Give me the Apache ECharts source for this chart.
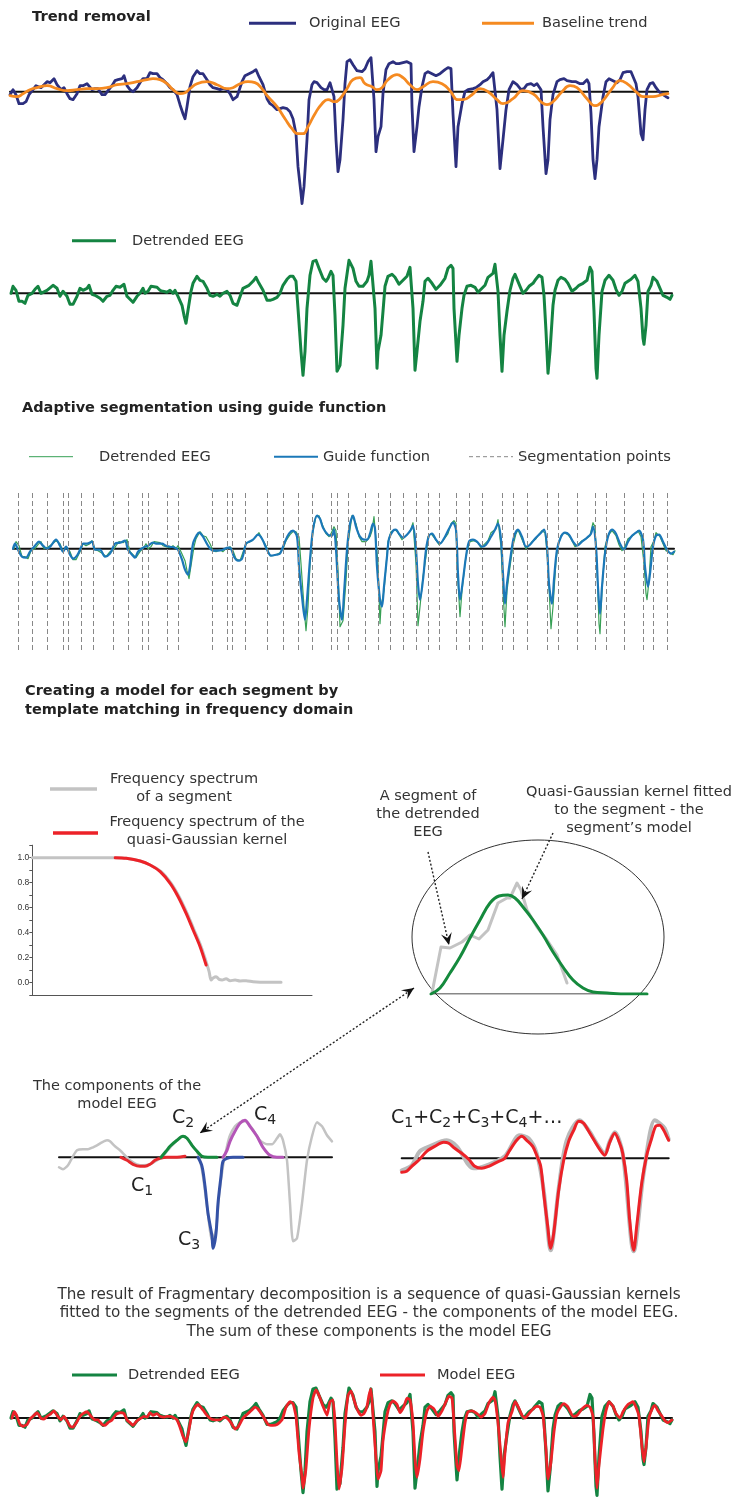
<!DOCTYPE html>
<html><head><meta charset="utf-8">
<script src="https://cdn.jsdelivr.net/npm/echarts@6/dist/echarts.min.js"></script>
<style>html,body{margin:0;padding:0;background:#fff}#c{width:737px;height:1500px}</style>
</head><body><div id="c"></div><script>
// ---------- DATA (time in samples, amplitude in arbitrary units) ----------
const originalEEG = [[10,-3],[13,2],[16,-3],[19,-12],[23,-12],[26,-10],[29,-3],[33,2],[36,6],[38,8],[41,4],[44,7],[47,10],[50,9],[54,13],[57,7],[61,2],[64,4],[67,-2],[70,-7],[73,-8],[77,-2],[80,6],[83,6],[87,8],[89,10],[92,2],[95,3],[98,3],[102,-3],[105,-3],[108,1],[112,6],[115,11],[118,12],[122,13],[124,16],[127,6],[130,2],[133,0],[137,4],[140,9],[143,13],[147,13],[150,19],[153,18],[157,18],[160,14],[163,12],[167,8],[170,4],[173,2],[177,-3],[180,-13],[183,-22],[185,-27],[187,-15],[190,5],[193,15],[197,21],[200,18],[203,18],[207,12],[210,7],[213,4],[217,3],[220,2],[223,3],[227,2],[230,-2],[233,-8],[237,-5],[239,-3],[242,10],[245,16],[249,18],[253,20],[256,22],[259,15],[263,7],[267,-7],[270,-12],[273,-14],[277,-18],[280,-17],[283,-16],[287,-17],[290,-20],[293,-27],[296,-42],[298,-75],[301,-102],[302,-112],[304,-95],[307,-48],[309,-8],[312,7],[314,10],[317,9],[321,4],[324,2],[327,2],[330,9],[332,9],[334,-5],[336,-48],[338,-80],[340,-68],[343,-28],[345,8],[347,30],[350,32],[353,27],[357,21],[362,20],[365,23],[368,30],[371,34],[373,32],[374,-8],[376,-60],[378,-45],[381,-35],[383,-2],[386,22],[389,28],[393,30],[396,28],[399,28],[403,29],[407,30],[409,32],[411,28],[412,-15],[414,-60],[417,-35],[419,-15],[422,5],[425,18],[428,20],[432,18],[436,16],[440,18],[445,22],[448,24],[451,23],[453,-22],[456,-75],[458,-35],[462,-12],[465,0],[468,2],[473,3],[476,4],[480,7],[483,10],[487,12],[490,15],[493,19],[495,18],[497,-18],[500,-77],[503,-48],[506,-18],[509,2],[513,10],[515,11],[517,7],[521,2],[524,3],[527,7],[531,8],[534,6],[537,8],[539,8],[541,2],[543,-35],[546,-82],[548,-68],[550,-28],[553,-3],[557,10],[560,12],[564,13],[567,11],[572,10],[576,10],[580,8],[583,8],[587,12],[589,8],[591,-22],[593,-68],[595,-87],[597,-68],[599,-35],[603,-5],[606,10],[609,13],[613,11],[617,9],[620,12],[623,19],[627,20],[631,20],[633,19],[636,8],[638,-5],[641,-42],[643,-48],[645,-18],[647,2],[650,8],[653,9],[656,4],[659,0],[663,-3],[666,-5],[668,-6]];

const baselineTrend = [[10,-4],[17,-5],[23,-2],[30,2],[37,4],[47,6],[57,3],[67,1],[77,2],[87,3],[97,3],[107,4],[117,7],[127,8],[137,10],[147,12],[153,13],[160,12],[167,8],[173,2],[180,-2],[185,-1],[190,3],[197,8],[207,10],[217,7],[227,3],[233,4],[240,8],[248,10],[255,9],[262,3],[268,-5],[277,-15],[285,-27],[292,-37],[298,-42],[303,-42],[308,-35],[315,-22],[322,-12],[328,-8],[335,-10],[340,-7],[347,3],[353,12],[360,14],[365,8],[372,5],[377,2],[382,4],[388,12],[397,17],[403,14],[410,7],[417,2],[423,5],[433,10],[442,8],[450,1],[458,-8],[463,-8],[472,-3],[480,3],[488,0],[497,-8],[503,-12],[513,-7],[523,1],[533,-2],[542,-11],[547,-13],[553,-10],[562,0],[570,6],[577,4],[587,-7],[595,-14],[602,-10],[612,3],[620,11],[627,8],[637,-1],[643,-5],[653,-5],[662,-3],[668,-2]];

const detrendedEEG = [[11,0],[13,7],[16,3],[19,-8],[22,-8],[25,-10],[28,-2],[32,0],[35,4],[38,7],[41,0],[43,-1],[47,3],[49,2],[53,8],[57,5],[60,-3],[63,2],[67,-3],[70,-11],[73,-11],[77,-3],[80,5],[83,3],[87,5],[89,8],[92,-1],[95,-2],[97,0],[100,-5],[103,-8],[107,-3],[110,-2],[113,3],[116,7],[120,6],[124,9],[127,-3],[130,-6],[133,-9],[137,-3],[140,0],[143,5],[145,0],[148,2],[151,7],[153,5],[157,6],[160,3],[163,2],[167,1],[170,3],[173,0],[175,3],[178,-3],[182,-12],[184,-22],[186,-30],[188,-17],[191,2],[193,10],[197,17],[200,13],[203,12],[207,5],[210,-2],[213,-3],[217,-1],[220,-3],[223,0],[227,2],[230,-2],[233,-10],[237,-12],[239,-10],[243,5],[245,7],[249,8],[253,12],[256,16],[259,10],[263,3],[267,-7],[270,-7],[273,-6],[277,-4],[280,0],[283,8],[287,14],[290,17],[293,17],[296,12],[298,-15],[301,-58],[303,-82],[305,-58],[307,-15],[310,18],[313,32],[316,33],[319,25],[323,15],[326,12],[328,15],[331,22],[333,18],[335,-22],[337,-78],[340,-72],[343,-32],[345,5],[349,33],[353,25],[356,12],[359,7],[363,7],[367,12],[369,18],[371,32],[373,33],[375,-15],[377,-75],[378,-58],[381,-42],[383,-18],[385,7],[388,17],[392,19],[395,16],[399,9],[403,13],[407,17],[410,26],[412,25],[413,-15],[415,-77],[417,-58],[420,-28],[423,-8],[425,12],[428,15],[432,10],[436,4],[440,8],[445,15],[448,25],[451,28],[453,25],[454,-15],[457,-68],[459,-42],[462,-15],[464,-2],[467,7],[471,8],[475,6],[478,1],[482,5],[485,8],[488,16],[493,20],[495,29],[497,30],[498,2],[500,-42],[502,-78],[504,-42],[507,-18],[510,3],[513,15],[515,19],[517,17],[520,7],[523,0],[526,3],[529,7],[533,10],[535,13],[537,12],[539,18],[542,16],[544,-2],[546,-38],[548,-80],[550,-58],[553,-12],[555,3],[558,13],[561,16],[565,14],[568,10],[572,2],[576,5],[579,8],[583,10],[587,13],[590,26],[592,22],[594,-18],[596,-75],[597,-85],[599,-42],[602,2],[605,13],[609,18],[613,13],[616,4],[619,-2],[622,2],[625,10],[628,12],[631,14],[635,18],[638,12],[641,-15],[643,-45],[644,-51],[646,-32],[648,2],[651,8],[653,16],[657,12],[660,5],[663,-2],[667,-4],[670,-6],[672,-2]];

const guideFunction = [[10,0],[12,5],[15,-1],[19,-8],[23,-9],[27,-3],[32,3],[36,7],[40,3],[44,0],[48,3],[53,9],[57,3],[60,-3],[63,2],[67,-6],[70,-10],[74,-7],[78,1],[80,5],[84,5],[89,7],[92,-1],[97,-1],[102,-8],[107,-5],[112,5],[117,6],[122,8],[125,-1],[130,-7],[132,-9],[135,-3],[140,1],[145,3],[150,6],[154,5],[159,5],[163,3],[167,2],[172,1],[175,-1],[179,-11],[182,-21],[185,-26],[187,-18],[190,5],[194,14],[196,16],[200,12],[205,3],[210,-2],[215,-2],[220,-1],[225,1],[228,0],[231,-8],[235,-12],[239,-10],[243,5],[246,7],[250,9],[255,14],[259,10],[264,-1],[268,-7],[273,-6],[277,-5],[282,7],[286,15],[290,18],[294,12],[296,-18],[299,-48],[302,-71],[304,-51],[307,-11],[310,19],[314,33],[317,30],[320,21],[325,14],[329,13],[331,19],[333,-1],[336,-51],[339,-71],[341,-45],[344,-1],[347,25],[350,33],[353,22],[357,12],[361,9],[364,9],[367,15],[370,25],[372,20],[374,-18],[377,-51],[379,-58],[381,-38],[384,-8],[386,10],[390,18],[393,19],[396,15],[400,11],[404,14],[408,19],[410,23],[413,-1],[415,-35],[417,-51],[420,-31],[423,-1],[426,13],[429,15],[433,9],[437,5],[442,12],[446,20],[450,26],[453,19],[455,-25],[457,-51],[460,-31],[463,-8],[466,7],[470,9],[474,7],[479,2],[483,4],[488,12],[492,19],[495,25],[498,9],[500,-25],[502,-55],[504,-35],[508,-5],[511,12],[515,19],[519,12],[523,2],[527,4],[532,10],[537,15],[541,19],[544,2],[546,-35],[549,-55],[551,-31],[554,-1],[558,12],[562,16],[566,14],[570,7],[574,3],[579,7],[584,11],[588,15],[590,22],[593,2],[595,-38],[597,-65],[599,-38],[602,-5],[605,12],[609,19],[613,15],[617,5],[621,-1],[625,7],[629,13],[633,16],[636,18],[640,9],[642,-18],[645,-38],[647,-25],[650,2],[653,13],[656,14],[660,7],[664,-1],[668,-5],[671,-3]];

const segmentationPoints = [15,29,44,60,65,78,90,110,125,139,145,164,175,209,224,229,242,264,280,295,309,328,334,345,362,375,387,400,413,425,436,453,466,479,499,510,524,544,555,574,592,603,621,640,650,664];

const modelEEG = [[12,0],[14,7],[17,2],[20,-7],[23,-9],[27,-7],[30,-1],[33,2],[37,6],[41,0],[44,-1],[47,2],[50,4],[54,8],[57,3],[61,-2],[64,2],[67,-3],[70,-9],[73,-10],[77,-4],[80,2],[83,5],[87,7],[91,2],[95,-2],[98,-2],[102,-7],[105,-8],[108,-5],[112,-2],[116,4],[120,6],[124,5],[127,-2],[130,-5],[133,-8],[137,-3],[141,0],[144,2],[147,1],[150,6],[153,3],[157,5],[160,2],[164,1],[167,2],[170,2],[173,1],[177,-2],[180,-10],[183,-20],[186,-26],[188,-18],[192,5],[195,12],[198,15],[203,9],[207,3],[211,-1],[215,-2],[220,-2],[224,1],[227,0],[231,-5],[235,-12],[238,-10],[243,0],[247,4],[251,8],[255,12],[258,10],[263,2],[268,-7],[273,-8],[277,-7],[282,-2],[286,12],[290,18],[293,16],[296,2],[299,-38],[302,-65],[303,-77],[306,-55],[309,-12],[313,22],[316,31],[319,25],[323,13],[327,3],[330,18],[333,20],[335,-5],[337,-48],[339,-78],[342,-55],[345,-8],[348,25],[351,30],[354,20],[357,10],[361,3],[364,5],[367,13],[369,25],[371,32],[373,3],[376,-45],[378,-67],[381,-58],[383,-25],[387,3],[390,15],[393,19],[397,15],[400,6],[404,13],[407,22],[410,20],[413,-5],[415,-45],[417,-65],[420,-45],[423,-15],[427,8],[430,13],[434,10],[438,2],[442,8],[446,18],[449,24],[452,22],[454,-5],[457,-52],[459,-58],[462,-32],[465,-5],[468,7],[472,8],[477,5],[481,1],[485,5],[489,17],[493,23],[495,20],[498,-5],[501,-42],[503,-65],[505,-38],[508,-5],[512,7],[515,18],[518,13],[522,3],[525,0],[529,5],[533,10],[537,13],[540,12],[543,3],[546,-35],[548,-67],[551,-48],[554,-15],[557,5],[561,13],[564,16],[568,12],[573,2],[577,3],[582,10],[587,14],[590,12],[593,2],[595,-45],[597,-77],[599,-52],[603,-12],[606,8],[609,18],[613,13],[616,5],[620,0],[623,7],[628,15],[633,18],[636,12],[639,2],[642,-32],[644,-48],[646,-32],[649,0],[653,12],[655,14],[658,8],[662,2],[665,-3],[668,-5],[672,-2]];

// frequency spectra (normalised magnitude)
const spectrumSegment = [[0,1],[83,1],[94,0.995],[108,0.973],[118,0.941],[129,0.888],[139,0.794],[147,0.687],[155,0.553],[162,0.42],[169,0.286],[174,0.166],[177,0.086],[179,0.019],[181,0.035],[184,0.045],[187,0.024],[190,0.019],[194,0.029],[198,0.013],[203,0.019],[208,0.011],[214,0.013],[221,0.005],[234,0],[249,0]];
const spectrumKernel = [[83,1],[94,0.995],[108,0.973],[118,0.941],[128,0.888],[138,0.794],[146,0.687],[154,0.553],[161,0.42],[168,0.286],[174,0.139]];
const spectrumTicks = [0.0, 0.2, 0.4, 0.6, 0.8, 1.0];

// one segment and its fitted kernel
const segmentSample = [[2,1],[11,47],[20,46],[32,52],[40,59],[49,55],[58,64],[68,91],[77,96],[80,96],[87,111],[91,104],[97,84],[107,67],[117,54],[127,39],[137,11]];
const segmentKernel = [[1,0],[10,6],[20,21],[30,37],[40,56],[50,74],[60,91],[69,98],[78,99],[85,96],[93,87],[103,74],[113,59],[123,42],[133,27],[143,14],[153,6],[163,2],[177,1],[197,0],[217,0]];

// components of the model EEG
const componentsEEG = [[0,-10],[4,-12],[9,-8],[14,1],[18,7],[24,8],[29,8],[34,10],[38,12],[43,15],[48,17],[51,16],[56,11],[61,7],[66,2],[71,-3],[78,-7],[84,-8],[91,-7],[98,-3],[103,0],[108,6],[114,13],[123,21],[128,19],[133,12],[138,6],[141,-3],[144,-19],[148,-49],[153,-83],[157,-73],[160,-39],[164,-9],[168,11],[171,22],[176,31],[181,35],[186,36],[193,29],[201,17],[208,13],[213,13],[218,19],[221,23],[224,17],[228,-3],[231,-46],[234,-84],[238,-81],[243,-46],[248,-3],[253,21],[258,35],[263,31],[268,22],[273,16]];
const compC1 = [[62,0],[68,-3],[74,-7],[81,-9],[86,-9],[91,-7],[96,-3],[101,-1],[108,0],[118,0],[126,1]];
const compC2 = [[102,0],[107,6],[111,11],[118,17],[124,21],[128,19],[133,12],[138,6],[143,1],[149,0],[158,0]];
const compC3 = [[139,0],[143,-9],[146,-29],[149,-56],[153,-79],[154,-91],[157,-76],[159,-46],[162,-19],[164,-4],[168,-1],[174,0],[184,0]];
const compC4 = [[164,0],[168,7],[171,16],[176,26],[181,34],[186,37],[191,31],[198,21],[204,10],[211,2],[218,0],[224,0]];

// sum of components vs EEG
const sumEEG = [[0,-12],[10,-7],[18,7],[28,12],[45,18],[55,12],[72,-10],[85,-7],[103,2],[118,23],[127,20],[135,5],[142,-32],[149,-92],[157,-30],[165,18],[178,38],[187,28],[195,15],[203,5],[208,17],[213,26],[221,5],[232,-93],[242,-15],[253,38],[258,35],[263,30],[267,19]];
const sumModel = [[0,-14],[5,-13],[10,-8],[17,-2],[25,7],[33,12],[42,16],[47,15],[53,10],[60,5],[67,-1],[73,-8],[80,-10],[87,-8],[95,-4],[103,0],[108,8],[115,18],[120,22],[125,18],[131,12],[135,3],[139,-8],[142,-35],[146,-68],[149,-90],[152,-75],[157,-32],[162,-2],[167,17],[172,28],[177,37],[182,35],[187,27],[193,17],[198,9],[203,3],[208,16],[213,25],[218,15],[221,5],[225,-22],[228,-62],[232,-92],[235,-68],[240,-25],[245,3],[250,20],[254,32],[258,33],[262,28],[265,22],[267,18]];

// ---------- STYLE ----------
const FONT = '"DejaVu Sans", Verdana, sans-serif';
const C = {navy:'#2c2f7e', orange:'#f58a21', green:'#148442', thin:'#37a055', blue:'#1b78b8', red:'#ec2228', gray:'#c3c3c3', c1:'#e6282d', c2:'#158a3d', c3:'#3452a6', c4:'#b455b7', txt:'#333'};

const chart = echarts.init(document.getElementById('c'), null, {renderer:'canvas', width:737, height:1500});

const grids = [
  {left:0, top:41.7, width:737, height:165},      // 0 trend
  {left:0, top:253.3, width:737, height:130},     // 1 detrended
  {left:0, top:493, width:737, height:157},       // 2 segmentation
  {left:32.3, top:845.2, width:279.7, height:149.6}, // 3 spectrum
  {left:430, top:879, width:217, height:115},     // 4 ellipse segment
  {left:59, top:1112.3, width:275, height:140},   // 5 components
  {left:401.7, top:1113.3, width:268, height:145},// 6 sum
  {left:0, top:1381.7, width:737, height:130}     // 7 bottom
];
const xr = [[0,737],[0,737],[-3,734],[0,280],[0,217],[0,275],[0,268],[0,737]];
const yr = [[-115,50],[-90,40],[-101.3,55.7],[-0.1,1.1],[0,115],[-95,45],[-100,45],[-90,40]];

const xAxes = xr.map((r,i)=>({gridIndex:i, type:'value', min:r[0], max:r[1], show:false}));
const yAxes = yr.map((r,i)=>({gridIndex:i, type:'value', min:r[0], max:r[1], show:false}));
// spectrum axes visible
xAxes[3] = {gridIndex:3, type:'value', min:0, max:280, show:true,
  axisLine:{show:true, onZero:false, lineStyle:{color:'#555', width:1}}, axisTick:{show:false}, axisLabel:{show:false}, splitLine:{show:false}};
yAxes[3] = {gridIndex:3, type:'value', min:-0.1, max:1.1, interval:0.1, show:true,
  axisLine:{show:true, onZero:false, lineStyle:{color:'#555', width:1}},
  axisTick:{show:true, length:3, lineStyle:{color:'#555'}},
  axisLabel:{show:true, margin:3, fontSize:8.5, fontFamily:'"Liberation Sans", Arial, sans-serif', color:'#333',
    formatter:v=>{const r=Math.round(v*10)/10; return spectrumTicks.some(t=>Math.abs(t-r)<1e-6)? r.toFixed(1):'';}},
  splitLine:{show:false}};

function line(name, data, gi, color, width, extra){
  return Object.assign({type:'line', name, data, xAxisIndex:gi, yAxisIndex:gi, symbol:'none', showSymbol:false,
    silent:true, animation:false, lineStyle:{color, width, cap:'round', join:'round'}, z:3}, extra||{});
}
function zero(data, gi, width, extra){
  return line('zero', [[data[0][0],0],[data[data.length-1][0],0]], gi, '#111', width||2, Object.assign({z:2}, extra||{}));
}

const series = [
  zero(originalEEG, 0),
  line('Original EEG', originalEEG, 0, C.navy, 2.8),
  line('Baseline trend', baselineTrend, 0, C.orange, 2.8, {smooth:0.5}),
  zero(detrendedEEG, 1),
  line('Detrended EEG', detrendedEEG, 1, C.green, 3),
  zero(guideFunction, 2, 2, {markLine:{silent:true, symbol:['none','none'], label:{show:false}, animation:false,
      lineStyle:{type:[5,3], color:'#888', width:1}, data:segmentationPoints.map(v=>({xAxis:v}))}}),
  line('Detrended EEG (thin)', detrendedEEG, 2, C.thin, 1.2),
  line('Guide function', guideFunction, 2, C.blue, 2.2, {smooth:0.3}),
  line('Spectrum segment', spectrumSegment, 3, C.gray, 3, {smooth:0.3}),
  line('Spectrum kernel', spectrumKernel, 3, C.red, 3, {smooth:0.3}),
  zero(segmentKernel, 4, 1.2),
  line('Segment', segmentSample, 4, C.gray, 3),
  line('Kernel', segmentKernel, 4, C.c2, 3, {smooth:0.4}),
  zero(componentsEEG, 5, 2),
  line('EEG', componentsEEG, 5, C.gray, 2.5, {smooth:0.2}),
  line('C1', compC1, 5, C.c1, 3, {smooth:0.3}),
  line('C2', compC2, 5, C.c2, 3, {smooth:0.3}),
  line('C3', compC3, 5, C.c3, 3, {smooth:0.3}),
  line('C4', compC4, 5, C.c4, 3, {smooth:0.3}),
  zero(sumModel, 6, 2),
  line('EEG sum', sumEEG, 6, '#b9b9b9', 4, {smooth:0.3}),
  line('Model sum', sumModel, 6, C.red, 3, {smooth:0.3}),
  zero(modelEEG, 7),
  line('Detrended EEG 2', detrendedEEG, 7, C.green, 3.2),
  line('Model EEG', modelEEG, 7, C.red, 2.8, {smooth:0.15})
];

// ---------- GRAPHIC (titles, legends, annotations) ----------
function txt(text, x, y, size, o){
  o = o||{};
  return {type:'text', x, y, z:10, silent:true, style:{text, font:(o.bold?'bold ':'')+size+'px '+FONT,
    fill:o.color||C.txt, textAlign:o.align||'left', textVerticalAlign:'middle'}};
}
function seg(x1,y1,x2,y2,color,w,dash){
  return {type:'line', z:10, silent:true, shape:{x1,y1,x2,y2}, style:{stroke:color, lineWidth:w, lineDash:dash||null}};
}
function head(tx,ty,fx,fy){
  const L=Math.hypot(tx-fx,ty-fy), dx=(tx-fx)/L, dy=(ty-fy)/L, px=-dy, py=dx, len=12, hw=5.5;
  return {type:'polygon', z:11, silent:true, shape:{points:[[tx,ty],[tx-dx*len+px*hw,ty-dy*len+py*hw],[tx-dx*len*0.6,ty-dy*len*0.6],[tx-dx*len-px*hw,ty-dy*len-py*hw]]}, style:{fill:'#111'}};
}
function arrow(x1,y1,x2,y2,both){
  const a=[seg(x1,y1,x2,y2,'#222',1.4,[2,2]), head(x2,y2,x1,y1)];
  if(both) a.push(head(x1,y1,x2,y2));
  return a;
}
const rich = {c:{fontSize:19, fontFamily:FONT, fill:'#222', lineHeight:24}, s:{fontSize:14, fontFamily:FONT, fill:'#222', lineHeight:14, verticalAlign:'bottom'}};
function clabel(str, x, y){
  return {type:'text', x, y, z:10, silent:true, style:{text:str, rich, fill:'#222', font:'19px '+FONT, textAlign:'left', textVerticalAlign:'middle'}};
}

const graphic = [
  txt('Trend removal', 32, 17.5, 14.7, {bold:true, color:'#222'}),
  seg(249,23.3,296,23.3,C.navy,3), txt('Original EEG', 309, 23.5, 14.6),
  seg(482,23.3,534,23.3,C.orange,3), txt('Baseline trend', 542, 23.5, 14.6),
  seg(72,240.7,116,240.7,C.green,3), txt('Detrended EEG', 132, 241, 14.6),
  txt('Adaptive segmentation using guide function', 22, 408, 14.5, {bold:true, color:'#222'}),
  seg(29,456.7,73,456.7,C.thin,1), txt('Detrended EEG', 99, 457, 14.6),
  seg(274,456.7,318,456.7,C.blue,2), txt('Guide function', 323, 457, 14.6),
  seg(469,456.7,513,456.7,'#888',1,[4,3]), txt('Segmentation points', 518, 457, 14.7),
  txt('Creating a model for each segment by', 25, 691, 14.5, {bold:true, color:'#222'}),
  txt('template matching in frequency domain', 25, 710, 14.5, {bold:true, color:'#222'}),
  seg(50,789,97,789,C.gray,3.5), txt('Frequency spectrum', 184, 779.5, 14.5, {align:'center'}), txt('of a segment', 184, 797, 14.5, {align:'center'}),
  seg(53,833,98,833,C.red,3.5), txt('Frequency spectrum of the', 207, 822, 14.5, {align:'center'}), txt('quasi-Gaussian kernel', 207, 840, 14.5, {align:'center'}),
  {type:'ellipse', z:1, silent:true, shape:{cx:538, cy:937, rx:126, ry:97}, style:{fill:null, stroke:'#333', lineWidth:1}},
  txt('A segment of', 428, 796, 14.5, {align:'center'}), txt('the detrended', 428, 814, 14.5, {align:'center'}), txt('EEG', 428, 832, 14.5, {align:'center'}),
  txt('Quasi-Gaussian kernel fitted', 629, 792, 14.5, {align:'center'}), txt('to the segment - the', 629, 810, 14.5, {align:'center'}), txt('segment\u2019s model', 629, 828, 14.5, {align:'center'}),
  ...arrow(428,852,449,945),
  ...arrow(553,833,522,899),
  ...arrow(414,988,200,1133,true),
  txt('The components of the', 117, 1086, 14.5, {align:'center'}), txt('model EEG', 117, 1104, 14.5, {align:'center'}),
  clabel('{c|C}{s|1}', 131, 1186),
  clabel('{c|C}{s|2}', 172, 1118),
  clabel('{c|C}{s|3}', 178, 1240),
  clabel('{c|C}{s|4}', 254, 1115),
  clabel('{c|C}{s|1}{c|+C}{s|2}{c|+C}{s|3}{c|+C}{s|4}{c|+\u2026}', 391, 1118),
  txt('The result of Fragmentary decomposition is a sequence of quasi-Gaussian kernels', 369, 1295, 15.2, {align:'center'}),
  txt('fitted to the segments of the detrended EEG - the components of the model EEG.', 369, 1313.5, 15.2, {align:'center'}),
  txt('The sum of these components is the model EEG', 369, 1332, 15.2, {align:'center'}),
  seg(72,1375,117,1375,C.green,3), txt('Detrended EEG', 128, 1375.5, 14.6),
  seg(380,1375,425,1375,C.red,3), txt('Model EEG', 437, 1375.5, 14.6)
];

chart.setOption({animation:false, backgroundColor:'#fff', grid:grids, xAxis:xAxes, yAxis:yAxes, series, graphic});
</script></body></html>
